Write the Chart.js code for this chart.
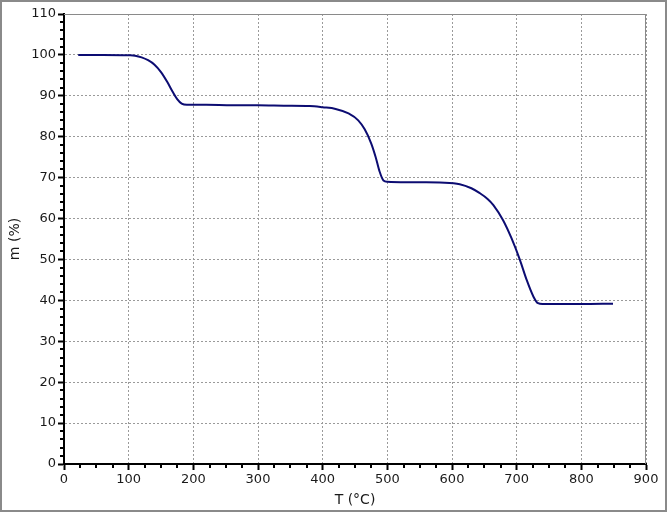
<!DOCTYPE html>
<html><head><meta charset="utf-8">
<script src="https://cdn.jsdelivr.net/npm/chart.js@4/dist/chart.umd.min.js"></script>
<style>html,body{margin:0;padding:0;background:#fff}canvas{display:block}</style>
</head><body>
<canvas id="c" width="667" height="512"></canvas>
<script>
// Data
const temps  = [22, 60, 100, 110, 120, 130, 140, 150, 160, 168, 175, 182, 190, 220, 260, 300, 340, 380, 400, 420, 440, 455, 465, 475, 482, 488, 494, 500, 530, 560, 581, 612, 630, 643, 655, 664, 679, 692, 705, 715, 726, 733, 740, 800, 849];
const masses = [100, 100, 99.9, 99.8, 99.4, 98.7, 97.6, 95.8, 93.3, 91.0, 89.2, 88.1, 87.8, 87.8, 87.7, 87.7, 87.6, 87.5, 87.2, 86.8, 85.7, 84.0, 81.8, 78.4, 75.0, 71.5, 69.3, 69.0, 68.9, 68.9, 68.8, 68.4, 67.4, 66.2, 64.8, 63.3, 59.6, 55.2, 49.9, 45.2, 40.9, 39.3, 39.1, 39.1, 39.2];
const xTitle = 'T (°C)';
const yTitle = 'm (%)';
const xRange = [0, 900], xStep = 100, xMinor = 25;
const yRange = [0, 110], yStep = 10, yMinor = 2;

const points = temps.map((t, i) => ({x: t, y: masses[i]}));
const FONT = 'DejaVu Sans';

const decor = {
  id: 'decor',
  afterDatasetsDraw(chart) {
    const ctx = chart.ctx, a = chart.chartArea;
    const xs = chart.scales.x, ys = chart.scales.y;
    ctx.save();
    ctx.strokeStyle = '#8a8a8a'; ctx.lineWidth = 1;
    ctx.beginPath();
    ctx.moveTo(a.left, a.top + 0.5); ctx.lineTo(a.right - 0.5, a.top + 0.5); ctx.lineTo(a.right - 0.5, a.bottom);
    ctx.stroke();
    ctx.strokeStyle = '#000'; ctx.lineWidth = 2;
    ctx.beginPath();
    for (let v = xRange[0]; v <= xRange[1]; v += xMinor) {
      if (v % xStep === 0) continue;
      const px = Math.round(xs.getPixelForValue(v));
      ctx.moveTo(px, a.bottom); ctx.lineTo(px, a.bottom + 4);
    }
    for (let v = yRange[0]; v <= yRange[1]; v += yMinor) {
      if (v % yStep === 0) continue;
      const py = Math.round(ys.getPixelForValue(v));
      ctx.moveTo(a.left, py); ctx.lineTo(a.left - 4, py);
    }
    ctx.stroke();
    ctx.restore();
  },
  afterDraw(chart) {
    const ctx = chart.ctx;
    ctx.save();
    ctx.strokeStyle = '#8a8a8a'; ctx.lineWidth = 2;
    ctx.strokeRect(1, 1, chart.width - 2, chart.height - 2);
    ctx.restore();
  }
};

new Chart(document.getElementById('c'), {
  type: 'line',
  data: { datasets: [{
    data: points,
    borderColor: '#0c0c72',
    borderWidth: 2,
    pointRadius: 0,
    fill: false,
    cubicInterpolationMode: 'monotone'
  }]},
  options: {
    responsive: false,
    animation: false,
    devicePixelRatio: 1,
    layout: { padding: { left: 0, top: 14, right: 21, bottom: 0 } },
    plugins: { legend: { display: false }, tooltip: { enabled: false } },
    scales: {
      x: {
        type: 'linear', min: xRange[0], max: xRange[1],
        ticks: { stepSize: xStep, color: '#1a1a1a', font: { family: FONT, size: 13 }, padding: 2, maxRotation: 0 },
        grid: { color: '#9a9a9a', lineWidth: 1, tickColor: '#000', tickLength: 6, tickWidth: 2 },
        border: { display: true, color: '#000', width: 2, dash: [2, 2] },
        title: { display: true, text: xTitle, color: '#1a1a1a', font: { family: FONT, size: 14 }, padding: { top: 2, bottom: 3 } },
        afterFit(s) { s.height = 48; }
      },
      y: {
        type: 'linear', min: yRange[0], max: yRange[1],
        ticks: { stepSize: yStep, color: '#1a1a1a', font: { family: FONT, size: 13 }, padding: 2 },
        grid: { color: '#9a9a9a', lineWidth: 1, tickColor: '#000', tickLength: 6, tickWidth: 2 },
        border: { display: true, color: '#000', width: 2, dash: [2, 2] },
        title: { display: true, text: yTitle, color: '#1a1a1a', font: { family: FONT, size: 14 }, padding: { top: 7, bottom: 0 } },
        afterFit(s) { s.width = 64; }
      }
    }
  },
  plugins: [decor]
});
</script>
</body></html>
